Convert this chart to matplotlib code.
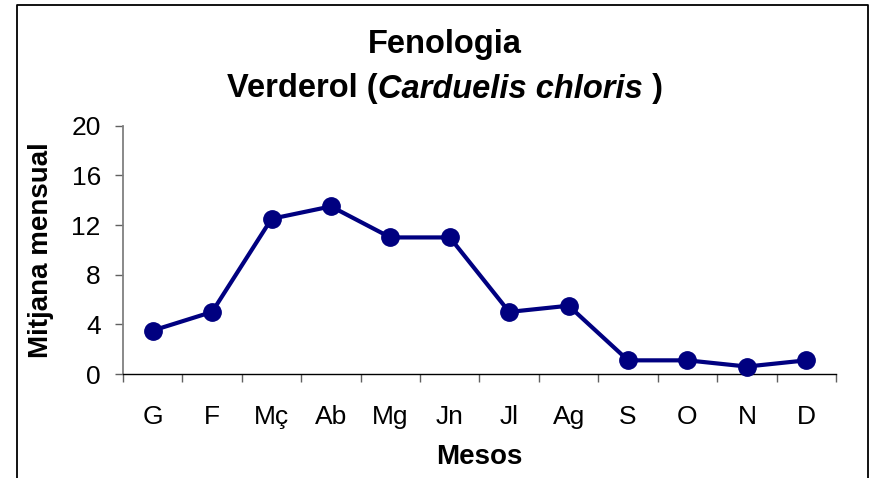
import matplotlib
matplotlib.use("Agg")
import matplotlib.pyplot as plt
from matplotlib.lines import Line2D

# -----------------------
# Data
# -----------------------
mesos = ["G", "F", "Mç", "Ab", "Mg", "Jn", "Jl", "Ag", "S", "O", "N", "D"]
mitjana = [3.5, 5.0, 12.5, 13.5, 11.0, 11.0, 5.0, 5.5, 1.1, 1.1, 0.6, 1.1]
y_ticks = [0, 4, 8, 12, 16, 20]

plt.rcParams["font.family"] = ["Liberation Sans", "DejaVu Sans"]

W, H, DPI = 874, 478, 100
fig = plt.figure(figsize=(W / DPI, H / DPI), dpi=DPI)
fig.patch.set_facecolor("white")

# chart frame (bottom edge is cut off in the reference)
fx0, fx1, fy0 = 16.5 / W, 868 / W, 1 - 5 / H
fig.add_artist(Line2D([fx0, fx0, fx1, fx1], [-0.1, fy0, fy0, -0.1],
                      transform=fig.transFigure, color="black", lw=1.3))

ax = fig.add_axes([123 / W, 1 - 374 / H, (836 - 123) / W, (374 - 125.7) / H])
x = list(range(len(mesos)))
ax.plot(x, mitjana, color="#000080", lw=3.0, marker="o", markersize=12.5,
        clip_on=False, zorder=3)

ax.set_xlim(-0.5, len(mesos) - 0.5)
ax.set_ylim(0, 20)
ax.set_yticks(y_ticks)
ax.set_xticks(x)
ax.set_xticklabels(mesos)
ax.set_xticks([i - 0.5 for i in range(len(mesos) + 1)], minor=True)

for s in ["top", "right"]:
    ax.spines[s].set_visible(False)
ax.spines["left"].set_color("#808080")
ax.spines["left"].set_linewidth(1.3)
ax.spines["bottom"].set_color("black")
ax.spines["bottom"].set_linewidth(1.0)

ax.tick_params(axis="y", direction="out", length=6, width=1, color="#606060",
               labelsize=19, pad=10)
ax.tick_params(axis="x", which="major", length=0, labelsize=19, pad=22)
ax.tick_params(axis="x", which="minor", direction="out", length=6, width=1,
               color="#606060")

ax.set_ylabel("Mitjana mensual", fontsize=20, fontweight="bold", va="center")
ax.yaxis.set_label_coords((41 - 123) / (836 - 123), 0.5)
ax.set_xlabel("Mesos", fontsize=20, fontweight="bold", va="center")
ax.xaxis.set_label_coords(0.5, -(457 - 374) / (374 - 125.7))

# title, two lines, species name in italic
cx = 445 / W
fig.text(cx, 1 - 44 / H, "Fenologia", fontsize=23.5, fontweight="bold",
         ha="center", va="center")
parts = [("Verderol (", "normal"), ("Carduelis chloris", "italic"), (" )", "normal")]
y2 = 1 - 89 / H
texts = [fig.text(0, y2, s, fontsize=23.5, fontweight="bold", style=st,
                  ha="left", va="center") for s, st in parts]
fig.canvas.draw()
r = fig.canvas.get_renderer()
widths = [t.get_window_extent(r).width / W for t in texts]
pos = cx - sum(widths) / 2
for t, w in zip(texts, widths):
    t.set_x(pos)
    pos += w

fig.savefig("out.png", dpi=DPI)
